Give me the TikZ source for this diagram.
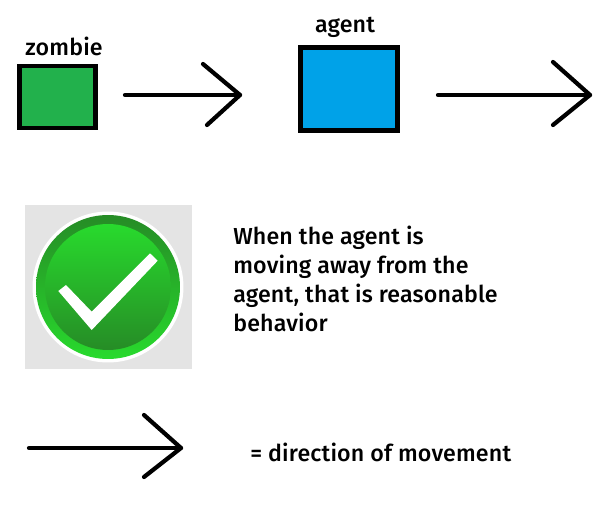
\documentclass[tikz,border=0pt]{standalone}
\usepackage{fontspec}
\setmainfont{Fira Sans Medium}
\usepackage{xcolor}
\usetikzlibrary{
	calc,
	positioning
}
\definecolor{ZombieGreen}{RGB}{34,177,76}
\definecolor{AgentBlue}{RGB}{0,162,232}
\definecolor{TickBack}{RGB}{228,228,228}
\definecolor{TickLight}{RGB}{40,218,45}
\definecolor{TickDark}{RGB}{38,140,38}
\tikzset{
	box/.style={draw=black, line width=2.6pt, inner sep=0pt},
	stroke/.style={line width=2.4pt, line cap=round, line join=round},
	label/.style={inner sep=0pt, font=\fontsize{13.2}{16.5}\selectfont\addfontfeature{LetterSpace=0.7}}
}
\begin{document}
\begin{tikzpicture}[x=0.02cm, y=-0.02cm]
		\useasboundingbox (0,0) rectangle (615,513);
		
		\node[box, fill=ZombieGreen, minimum width=1.52cm, minimum height=1.24cm] (zombie) at (57.7,96.8) {};
		\node[box, fill=AgentBlue, minimum width=1.94cm, minimum height=1.66cm] (agent) at (349,89) {};
		\node[label] (zombielabel) at (64,46) {zombie};
		\node[label] (agentlabel) at (345,27) {agent};
		
		\coordinate (A1) at (125,95);
		\coordinate (A1tip) at (240,95);
		\coordinate (A1up) at (203,64);
		\coordinate (A1down) at (207,125);
		\draw[stroke] (A1) -- (A1tip);
		\draw[stroke] (A1up) -- (A1tip) -- (A1down);
		
		\coordinate (A2) at (438,95);
		\coordinate (A2tip) at (590,95);
		\coordinate (A2up) at (553,62);
		\coordinate (A2down) at (553,125);
		\draw[stroke] (A2) -- (A2tip);
		\draw[stroke] (A2up) -- (A2tip) -- (A2down);
		
		% check mark picture
		\fill[TickBack] (25,205) rectangle (192,369);
		\coordinate (C) at (108,287);
		\fill[white] (C) circle (1.51cm);
		\shade[top color=TickDark, bottom color=TickLight] (C) circle (1.44cm);
		\shade[top color=TickLight, bottom color=TickDark] (C) circle (1.26cm);
		\fill[white] (58.3,291) -- (66,285) -- (91.7,311.7) -- (150,253.3) -- (157.7,260.7) -- (91.7,330) -- cycle;
		
		\node[label, anchor=north west, align=left] (reason) at (233,226) {When the agent is\\moving away from the\\agent, that is reasonable\\behavior};
		
		\coordinate (A3) at (29,448);
		\coordinate (A3tip) at (181,448);
		\coordinate (A3up) at (144,415);
		\coordinate (A3down) at (144,477);
		\draw[stroke] (A3) -- (A3tip);
		\draw[stroke] (A3up) -- (A3tip) -- (A3down);
		
		\node[label, anchor=west] (legend) at (250,452) {= direction of movement};
	\end{tikzpicture}
\end{document}
